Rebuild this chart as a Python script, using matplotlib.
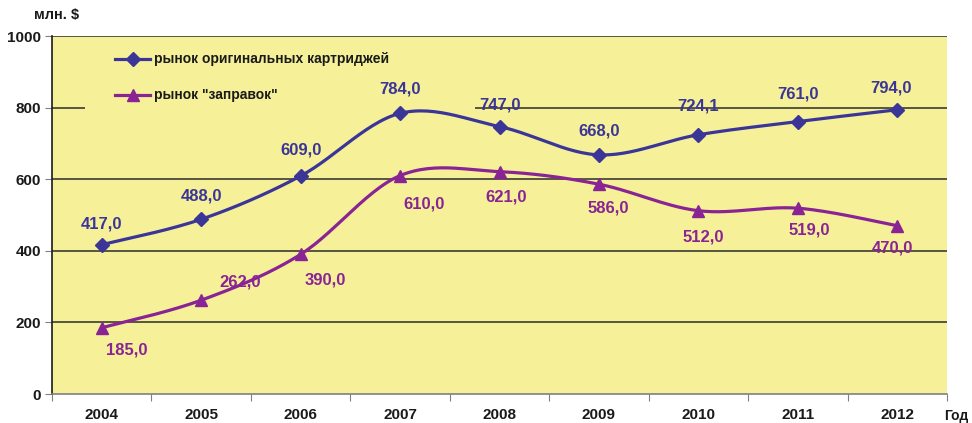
# Рынок картриджей: оригинальные vs "заправки", 2004-2012
import numpy as np
import matplotlib.pyplot as plt
from matplotlib.patches import Rectangle

# данные
years = ["2004", "2005", "2006", "2007", "2008", "2009", "2010", "2011", "2012"]
original = [417.0, 488.0, 609.0, 784.0, 747.0, 668.0, 724.1, 761.0, 794.0]
refill = [185.0, 262.0, 390.0, 610.0, 621.0, 586.0, 512.0, 519.0, 470.0]

name_original = "рынок оригинальных картриджей"
name_refill = 'рынок "заправок"'

# стиль
BG = "#F6F199"
BLUE = "#3B3597"
PURPLE = "#8A2494"
FONT = "Liberation Sans"

# смещения подписей в пикселях (dx, dy)
off_original = [(0, 21), (0, 23), (0, 26), (0, 24), (0, 22), (0, 24), (0, 29), (0, 28), (-6, 22)]
off_refill = [(25, -22), (39, 18), (25, -26), (24, -28), (7, -25), (9, -24), (5, -26), (11, -22), (-5, -22)]


def smooth(x, y, n=30):
    """Сглаживание как в Excel: Catmull-Rom через кубические Безье."""
    x = np.asarray(x, float)
    y = np.asarray(y, float)
    p = np.column_stack([x, y])
    p = np.vstack([p[0], p, p[-1]])
    t = np.linspace(0, 1, n)[:, None]
    out = []
    for i in range(1, len(p) - 2):
        p0, p1, p2, p3 = p[i - 1], p[i], p[i + 1], p[i + 2]
        c1 = p1 + (p2 - p0) / 6
        c2 = p2 - (p3 - p1) / 6
        seg = ((1 - t) ** 3) * p1 + 3 * ((1 - t) ** 2) * t * c1 + 3 * (1 - t) * t ** 2 * c2 + t ** 3 * p2
        out.append(seg if i == 1 else seg[1:])
    seg = np.vstack(out)
    return seg[:, 0], seg[:, 1]


plt.rcParams["font.family"] = [FONT, "DejaVu Sans"]
plt.rcParams["font.weight"] = "bold"

fig = plt.figure(figsize=(9.72, 4.23), dpi=100)
ax = fig.add_axes([52 / 972, 29 / 423, 895 / 972, 358 / 423])
ax.set_facecolor(BG)

x = np.arange(len(years))

# сетка
for v in [200, 400, 600, 800, 1000]:
    ax.axhline(v, color="#2b2b2b", lw=1.1, zorder=0.5)

# фон легенды закрывает сетку
ax.add_patch(Rectangle((33 / 895, 0.7961), 390 / 895, 0.2, transform=ax.transAxes,
                       facecolor=BG, edgecolor="none", zorder=0.8))

for vals, col, mk, ms, lab, offs in [
    (original, BLUE, "D", 7.5, name_original, off_original),
    (refill, PURPLE, "^", 9, name_refill, off_refill),
]:
    sx, sy = smooth(x, vals)
    ax.plot(sx, sy, color=col, lw=2.3, zorder=2, solid_capstyle="round")
    ax.plot(x, vals, ls="none", marker=mk, ms=ms, color=col, zorder=3)
    for xi, v, (dx, dy) in zip(x, vals, offs):
        ax.annotate(f"{v:.1f}".replace(".", ","), (xi, v), xytext=(dx, dy),
                    textcoords="offset pixels", ha="center", va="center",
                    color=col, fontsize=12, fontweight="bold", zorder=4)

# легенда вручную
for row, (col, mk, ms, lab) in enumerate([(BLUE, "D", 7.5, name_original),
                                           (PURPLE, "^", 9, name_refill)]):
    yy = 0.935 - row * 0.1
    ax.plot([63 / 895, 98 / 895], [yy, yy], color=col, lw=2.3, transform=ax.transAxes, zorder=3)
    ax.plot([81 / 895], [yy], marker=mk, ms=ms, color=col, transform=ax.transAxes, zorder=3)
    ax.text(102 / 895, yy, lab, transform=ax.transAxes, va="center", ha="left",
            fontsize=10, fontweight="bold", color="#1a1a1a", zorder=4)

# оси
ax.set_xlim(-0.5, len(years) - 0.5)
ax.set_ylim(0, 1000)
ax.set_yticks([0, 200, 400, 600, 800, 1000])
ax.set_yticklabels(["0", "200", "400", "600", "800", "1000"])
ax.set_xticks(np.arange(len(years) + 1) - 0.5)
ax.set_xticklabels([])
ax.set_xticks(x, minor=True)
ax.set_xticklabels(years, minor=True)
ax.tick_params(axis="x", which="major", length=5, color="#808080", direction="out")
ax.tick_params(axis="x", which="minor", length=0, pad=10, labelsize=11)
ax.tick_params(axis="y", length=5, color="#808080", direction="out", pad=3, labelsize=11)
for t in ax.get_xticklabels(minor=True) + ax.get_yticklabels():
    t.set_fontweight("bold")
    t.set_color("#1a1a1a")

ax.spines["top"].set_visible(False)
ax.spines["right"].set_visible(False)
ax.spines["left"].set_color("#1a1a1a")
ax.spines["left"].set_linewidth(1.2)
ax.spines["bottom"].set_color("#808080")
ax.spines["bottom"].set_linewidth(1.2)

fig.text(57 / 972, 1 - 15 / 423, "млн. $", ha="center", va="center",
         fontsize=10.5, fontweight="bold", color="#1a1a1a")
fig.text(968 / 972, 1 - 416 / 423, "Год", ha="right", va="center",
         fontsize=10, fontweight="bold", color="#1a1a1a")

fig.savefig("out.png", dpi=100)
